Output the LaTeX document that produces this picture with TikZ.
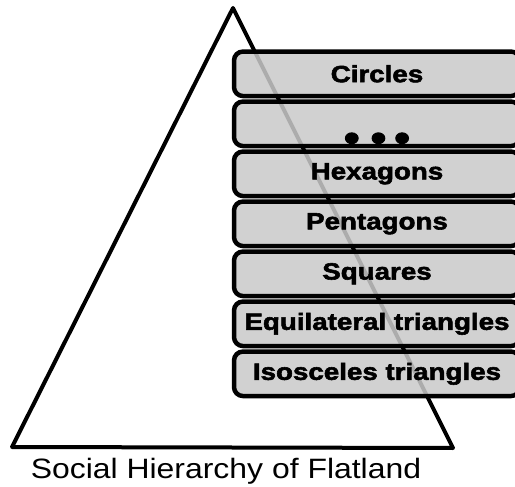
\documentclass[tikz,border=0pt]{standalone}
\usepackage{fontspec}
\setmainfont{Liberation Sans}
\newfontfamily\rankfont[FakeStretch=1.18,FakeBold=2.4]{Liberation Sans Bold}
\newfontfamily\captionfont[FakeStretch=1.14]{Liberation Sans}
\usetikzlibrary{positioning}

\begin{document}
\begin{tikzpicture}[x=1pt,y=-1pt,
  rank/.style={draw,line width=4.5pt,rounded corners=9pt,fill=black!21,fill opacity=0.86,text opacity=1,
    minimum width=286pt,minimum height=44.5pt,inner sep=0pt,font=\rankfont\fontsize{23.5}{25}\selectfont},
  node distance=1pt]

\useasboundingbox (0,0) rectangle (515,487);

% the pyramid
\draw[line width=4pt,line join=round] (233,8)--(12,447)--(453,448)--cycle;

% ranks, top to bottom
\node [rank] (circles) at (377,73.8) {Circles};
\node [rank,below=of circles] (dots) {};
\node [font=\rankfont\fontsize{38}{38}\selectfont] at ([yshift=-18pt]dots.center) {•\hspace{11pt}•\hspace{8pt}•};
\node [rank,below=of dots] (hexagons) {Hexagons};
\node [rank,below=of hexagons] (pentagons) {Pentagons};
\node [rank,below=of pentagons] (squares) {Squares};
\node [rank,below=of squares] (equilateral) {Equilateral triangles};
\node [rank,below=of equilateral] (isosceles) {Isosceles triangles};

\node [anchor=base,font=\captionfont\fontsize{28}{30}\selectfont] (caption) at (226,478) {Social Hierarchy of Flatland};

\end{tikzpicture}
\end{document}
